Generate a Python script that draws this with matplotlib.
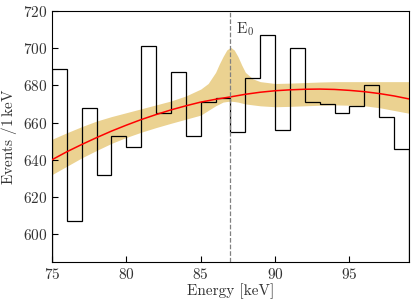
import matplotlib
matplotlib.use("Agg")
import matplotlib.pyplot as plt

plt.rcParams['font.family'] = 'serif'
plt.rcParams['font.serif'] = ['cmr10']
plt.rcParams['mathtext.fontset'] = 'cm'
plt.rcParams['axes.formatter.use_mathtext'] = True
plt.rcParams['font.size'] = 11

# histogram (1 keV bins)
bin_edges = list(range(75, 100))
counts = [689, 607, 668, 632, 653, 647, 701, 665, 687, 653, 671, 673,
          655, 684, 707, 656, 700, 671, 670, 665, 669, 680, 663, 646]

# fitted background curve
fit_x = [75, 76, 77, 78, 79, 80, 81, 82, 83, 84, 85, 86, 87,
         88, 89, 90, 91, 92, 93, 94, 95, 96, 97, 98, 99]
fit_y = [640, 644.3, 648.2, 651.9, 655.4, 658.6, 661.6, 664.3, 666.8, 669, 671, 672.5, 673.8,
         675.2, 676.3, 677.1, 677.6, 677.9, 678, 677.8, 677.3, 676.6, 675.6, 674.3, 672.7]

# uncertainty band
band_x = [75, 76, 77, 78, 79, 80, 81, 82, 83, 84, 85, 85.5, 86, 86.25, 86.5, 86.75, 87,
          87.25, 87.5, 87.75, 88, 88.5, 89, 90, 91, 92, 93, 94, 95, 96, 97, 98, 99]
band_lo = [632, 636.5, 641, 645, 648.8, 652, 654.8, 657.3, 659.6, 661.8, 664, 666.5, 669, 670, 671, 671.3, 671.5,
           671.3, 671, 670.5, 670, 669.5, 669, 668.5, 668.7, 669, 669.3, 669.5, 669.3, 669, 668, 666.5, 665]
band_hi = [651, 654.5, 657.8, 660.8, 663.2, 665.3, 667.4, 669.5, 671.6, 674.3, 678, 681, 687, 691.5, 695.5, 699, 700.5,
           699, 695.5, 691, 687, 683.5, 682, 681, 681.2, 681.5, 681.8, 682, 682, 682, 682, 682, 682]

E0 = 87

fig = plt.figure(figsize=(4.15, 3.05), dpi=100)
ax = fig.add_axes([0.1253, 0.141, 0.8602, 0.823])

ax.fill_between(band_x, band_lo, band_hi, color='#ebd291', lw=0, zorder=1)
ax.stairs(counts, bin_edges, baseline=0, fill=False, color='black', lw=0.9, zorder=2)
ax.plot(fit_x, fit_y, color='red', lw=1.1, zorder=3)
ax.axvline(E0, color='gray', ls='--', lw=0.9, zorder=4)
ax.text(E0 + 0.35, 705.5, r'E$_0$', fontsize=11, va='bottom', ha='left', color='#333333')

ax.set_xlim(75, 99)
ax.set_ylim(585, 720)
ax.set_xticks([75, 80, 85, 90, 95])
ax.set_yticks([600, 620, 640, 660, 680, 700, 720])
ax.tick_params(direction='in', length=4, width=0.8, labelcolor='#333333')
ax.set_xlabel('Energy [keV]', color='#333333', labelpad=1)
ax.set_ylabel(r'Events /1$\,$keV', color='#333333', labelpad=3)

fig.savefig('out.png', dpi=100)
